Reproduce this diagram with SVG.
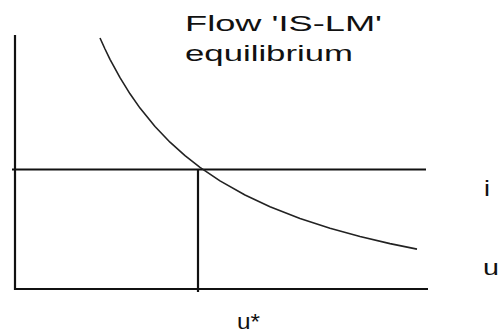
<svg xmlns="http://www.w3.org/2000/svg" width="501" height="335" viewBox="0 0 501 335">
<style>
.ax{stroke:#111;stroke-width:2.2;fill:none;stroke-linecap:butt}
.cv{stroke:#222;stroke-width:1.6;fill:none;stroke-linejoin:round}
.t{font-family:"Liberation Sans",Arial,sans-serif;font-size:22px;fill:#111}
</style>
<rect width="501" height="335" fill="#fff"/>
<g id="axes">
<line class="ax" x1="15" y1="35" x2="15" y2="290"/>
<line class="ax" x1="14" y1="289" x2="428" y2="289"/>
</g>
<g id="lines">
<line class="ax" x1="12" y1="169.5" x2="426" y2="169.5"/>
<line class="ax" x1="198" y1="169" x2="198" y2="292"/>
</g>
<g id="curve">
<polyline class="cv" points="100,38 105,49 110,59.3 120,77.7 130,93.8 140,108.1 155,126.5 170,142.2 185,155.7 200,167.4 220,180.9 245,195 270,206.7 300,218.4 330,228.2 360,236.5 390,243.6 417,249.1"/>
</g>
<g id="title">
<text class="t" x="185" y="31" textLength="197" lengthAdjust="spacingAndGlyphs">Flow 'IS-LM'</text>
<text class="t" x="185" y="61" textLength="168" lengthAdjust="spacingAndGlyphs">equilibrium</text>
</g>
<g id="labels">
<text class="t" x="484" y="196" textLength="6" lengthAdjust="spacingAndGlyphs">i</text>
<text class="t" x="483" y="275" textLength="16" lengthAdjust="spacingAndGlyphs">u</text>
<text class="t" x="237" y="329" textLength="23" lengthAdjust="spacingAndGlyphs">u*</text>
</g>
</svg>
